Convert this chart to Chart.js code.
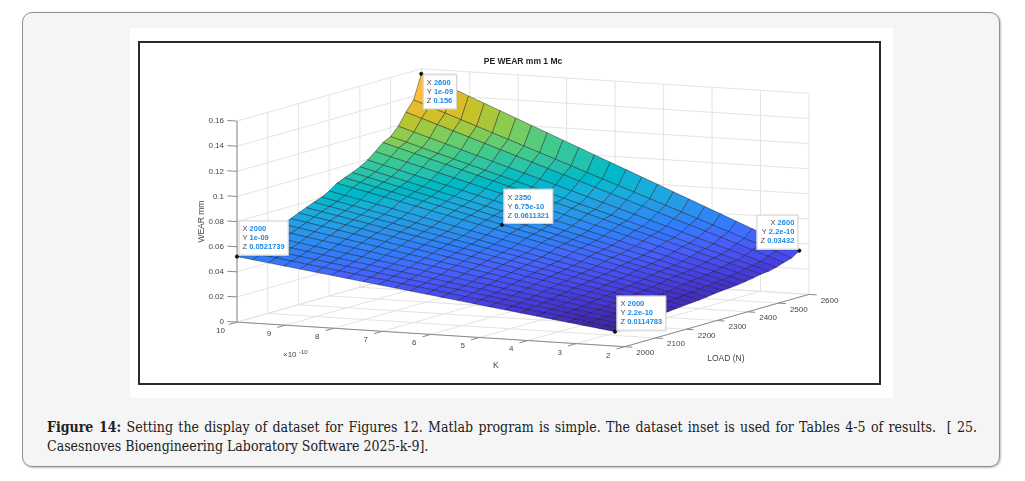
<!DOCTYPE html>
<html lang="en">
<head>
<meta charset="UTF-8">
<title>PE WEAR mm 1 Mc</title>
<script src="https://cdn.jsdelivr.net/npm/chart.js"></script>
<style>
    body { margin: 0; width: 1025px; height: 481px; position: relative; overflow: hidden; background: #fff; font-family: "Liberation Sans", Arial, sans-serif; }
    .panel { position: absolute; left: 22px; top: 12px; width: 976px; height: 453px; background: #f5f5f5; border: 1px solid #8f8f8f; border-radius: 10px; box-shadow: 1px 1px 2px rgba(0,0,0,0.25); }
    .figure { position: absolute; left: 130px; top: 28px; width: 763px; height: 370px; background: #fff; }
    .frame { position: absolute; left: 138px; top: 41px; width: 739px; height: 340px; border: 2px solid #2b2b2b; background: #fff; }
    .frame canvas { display: block; }
    .caption { position: absolute; left: 47px; top: 418px; width: 930px; font-family: "DejaVu Serif Condensed", "Liberation Serif", serif; font-size: 14px; line-height: 19px; color: #222; }
    .caption .l1 { text-align: justify; text-align-last: justify; white-space: nowrap; }
</style>
</head>
<body>
    <div class="panel"></div>
    <div class="figure"></div>
    <div class="frame"><canvas id="wearChart" width="739" height="340"></canvas></div>
    <div class="caption">
        <div class="l1"><b>Figure 14:</b> Setting the display of dataset for Figures 12. Matlab program is simple. The dataset inset is used for Tables 4-5 of results.&nbsp; [ 25.</div>
        <div>Casesnoves Bioengineering Laboratory Software 2025-k-9].</div>
    </div>

<script>
    // surface grid (LOAD in N, K, wear in mm)
    const loadValues = [2000, 2025, 2050, 2075, 2100, 2125, 2150, 2175, 2200, 2225, 2250, 2275, 2300,
                        2325, 2350, 2375, 2400, 2425, 2450, 2475, 2500, 2525, 2550, 2575, 2600];
    const kValues = [2.2e-10, 2.525e-10, 2.85e-10, 3.175e-10, 3.5e-10, 3.825e-10, 4.15e-10, 4.475e-10,
                     4.8e-10, 5.125e-10, 5.45e-10, 5.775e-10, 6.1e-10, 6.425e-10, 6.75e-10, 7.075e-10,
                     7.4e-10, 7.725e-10, 8.05e-10, 8.375e-10, 8.7e-10, 9.025e-10, 9.35e-10, 9.675e-10, 1e-9];
    // wear read along the K = 1e-9 edge, one value per load
    const wearAtKmax = [0.0521739, 0.0545, 0.0568, 0.0592, 0.0617, 0.0648, 0.0675, 0.0703, 0.0730, 0.0755,
                        0.0780, 0.0803, 0.0835, 0.0880, 0.0905661, 0.0930, 0.0958, 0.0995, 0.1045, 0.1100,
                        0.1130, 0.1195, 0.1290, 0.1370, 0.156];

    const loadTicks = [2000, 2100, 2200, 2300, 2400, 2500, 2600];
    const kTicks = [10, 9, 8, 7, 6, 5, 4, 3, 2];          // x 1e-10
    const wearTicks = [0, 0.02, 0.04, 0.06, 0.08, 0.1, 0.12, 0.14, 0.16];
    const loadLim = [2000, 2600];
    const kLim = [2e-10, 1e-9];
    const wearLim = [0, 0.16];

    // data tips: [load index, K index]
    const tipPoints = [[24, 24], [0, 24], [14, 14], [24, 0], [0, 0]];
    const tipPlace = ["below-right", "above-right", "above-right", "above-left", "above-right"];

    // wear is proportional to K (all data tips agree), so each row scales the K = 1e-9 edge
    const wear = kValues.map(k => wearAtKmax.map(w => w * k / kValues[kValues.length - 1]));

    // orthographic view, page pixels (MATLAB 3-D view)
    const view = { ox: 624.7, oy: 346.7, ux: 184.3, uy: -52.3, vx: -387.7, vy: -24.6, wy: -201 };
    // depth direction = screen-x row  x  screen-y row
    const dep = [view.vx * view.wy, -view.ux * view.wy, view.ux * view.vy - view.vx * view.uy];

    function uvw(load, k, z) {
        return [(load - loadLim[0]) / (loadLim[1] - loadLim[0]),
                (k - kLim[0]) / (kLim[1] - kLim[0]),
                (z - wearLim[0]) / (wearLim[1] - wearLim[0])];
    }
    function project(load, k, z) {
        const [u, v, w] = uvw(load, k, z);
        return { x: view.ox + u * view.ux + v * view.vx, y: view.oy + u * view.uy + v * view.vy + w * view.wy };
    }

    // MATLAB parula, 64 colours
    const parulaMap = [
        [0.2422,0.1504,0.6603],[0.2504,0.1650,0.7076],[0.2578,0.1818,0.7511],[0.2647,0.1978,0.7952],
        [0.2706,0.2147,0.8364],[0.2751,0.2342,0.8710],[0.2783,0.2559,0.8991],[0.2803,0.2782,0.9221],
        [0.2813,0.3006,0.9414],[0.2810,0.3228,0.9579],[0.2795,0.3447,0.9717],[0.2760,0.3667,0.9829],
        [0.2699,0.3892,0.9906],[0.2602,0.4123,0.9952],[0.2440,0.4358,0.9988],[0.2206,0.4603,0.9973],
        [0.1963,0.4847,0.9892],[0.1834,0.5074,0.9798],[0.1786,0.5289,0.9682],[0.1764,0.5499,0.9520],
        [0.1687,0.5703,0.9359],[0.1540,0.5902,0.9218],[0.1460,0.6091,0.9079],[0.1380,0.6276,0.8973],
        [0.1248,0.6459,0.8883],[0.1113,0.6635,0.8763],[0.0952,0.6798,0.8598],[0.0689,0.6948,0.8394],
        [0.0297,0.7082,0.8163],[0.0036,0.7203,0.7917],[0.0067,0.7312,0.7660],[0.0433,0.7411,0.7394],
        [0.0964,0.7500,0.7120],[0.1408,0.7584,0.6842],[0.1717,0.7670,0.6554],[0.1938,0.7758,0.6251],
        [0.2161,0.7843,0.5923],[0.2470,0.7918,0.5567],[0.2906,0.7973,0.5188],[0.3406,0.8008,0.4789],
        [0.3909,0.8029,0.4354],[0.4456,0.8024,0.3909],[0.5044,0.7993,0.3480],[0.5616,0.7942,0.3045],
        [0.6174,0.7876,0.2612],[0.6720,0.7793,0.2227],[0.7242,0.7698,0.1910],[0.7738,0.7598,0.1646],
        [0.8203,0.7498,0.1535],[0.8634,0.7406,0.1596],[0.9035,0.7330,0.1774],[0.9393,0.7288,0.2100],
        [0.9728,0.7298,0.2394],[0.9956,0.7434,0.2371],[0.9970,0.7659,0.2199],[0.9952,0.7893,0.2028],
        [0.9892,0.8136,0.1885],[0.9786,0.8386,0.1766],[0.9676,0.8639,0.1643],[0.9610,0.8890,0.1537],
        [0.9597,0.9135,0.1423],[0.9628,0.9373,0.1265],[0.9691,0.9606,0.1064],[0.9769,0.9839,0.0805]];
    function parula(t) {
        const c = parulaMap[Math.min(63, Math.floor(Math.max(0, t) * 64))].map(a => Math.round(255 * a));
        return `rgb(${c[0]},${c[1]},${c[2]})`;
    }

    const allWear = wear.flat();
    const cmin = Math.min(...allWear), cmax = Math.max(...allWear);

    // one filled quad per grid cell, nearest first (Chart.js paints the last dataset first)
    const cells = [];
    for (let i = 0; i < kValues.length - 1; i++) {
        for (let j = 0; j < loadValues.length - 1; j++) {
            const idx = [[i, j], [i, j + 1], [i + 1, j + 1], [i + 1, j]];
            const pts = idx.map(([a, b]) => project(loadValues[b], kValues[a], wear[a][b]));
            pts.push(pts[0]);
            let depth = 0;
            idx.forEach(([a, b]) => {
                const [u, v, w] = uvw(loadValues[b], kValues[a], wear[a][b]);
                depth += dep[0] * u + dep[1] * v + dep[2] * w;
            });
            cells.push({ pts, depth, color: parula((wear[i][j] - cmin) / (cmax - cmin)) });
        }
    }
    cells.sort((a, b) => a.depth - b.depth);

    const datasets = cells.map(c => ({
        type: "line",
        data: c.pts,
        backgroundColor: c.color,
        borderColor: "rgba(20,20,30,0.7)",
        borderWidth: 0.6,
        fill: "shape",
        pointRadius: 0,
        tension: 0
    }));
    datasets.push({
        type: "scatter",
        order: -1,
        data: tipPoints.map(([j, i]) => project(loadValues[j], kValues[i], wear[i][j])),
        pointRadius: 1.6,
        backgroundColor: "#111",
        borderColor: "#111"
    });

    function fmtExp(k) {
        const e = Math.floor(Math.log10(k) + 1e-9);
        const m = +(k / Math.pow(10, e)).toPrecision(4);
        const a = Math.abs(e);
        return m + "e" + (e < 0 ? "-" : "+") + (a < 10 ? "0" + a : a);
    }

    const axes3d = {
        id: "axes3d",
        beforeDatasetsDraw(chart) {
            const ctx = chart.ctx;
            const X = v => chart.scales.x.getPixelForValue(v);
            const Y = v => chart.scales.y.getPixelForValue(v);
            const seg = (p, q) => { ctx.moveTo(X(p.x), Y(p.y)); ctx.lineTo(X(q.x), Y(q.y)); };
            const text = (s, p, dx, dy, align) => { ctx.textAlign = align; ctx.fillText(s, X(p.x) + dx, Y(p.y) + dy); };
            const L0 = loadLim[0], L1 = loadLim[1], K0 = kLim[0], K1 = kLim[1], Z1 = wearLim[1];
            ctx.save();

            // grid on floor and the two back walls
            ctx.lineWidth = 1;
            ctx.strokeStyle = "#e3e3e3";
            ctx.beginPath();
            loadTicks.forEach(L => { seg(project(L, K0, 0), project(L, K1, 0)); seg(project(L, K1, 0), project(L, K1, Z1)); });
            kTicks.forEach(t => { const k = t * 1e-10; seg(project(L0, k, 0), project(L1, k, 0)); seg(project(L1, k, 0), project(L1, k, Z1)); });
            wearTicks.forEach(z => { seg(project(L0, K1, z), project(L1, K1, z)); seg(project(L1, K0, z), project(L1, K1, z)); });
            ctx.stroke();

            // axis lines and ticks
            ctx.strokeStyle = "#8a8a8a";
            ctx.beginPath();
            seg(project(L0, K1, 0), project(L0, K1, Z1));
            seg(project(L0, K0, 0), project(L0, K1, 0));
            seg(project(L0, K0, 0), project(L1, K0, 0));
            wearTicks.forEach(z => seg(project(L0, K1, z), project(L0, K1 + 0.025 * (K1 - K0), z)));
            kTicks.forEach(t => seg(project(L0, t * 1e-10, 0), project(L0 - 0.045 * (L1 - L0), t * 1e-10, 0)));
            loadTicks.forEach(L => seg(project(L, K0, 0), project(L, K0 - 0.02 * (K1 - K0), 0)));
            ctx.stroke();

            // tick labels
            ctx.fillStyle = "#444";
            ctx.font = '8px "Liberation Sans", Arial, sans-serif';
            ctx.textBaseline = "middle";
            wearTicks.forEach(z => text(String(z), project(L0, K1, z), -13, 0, "right"));
            kTicks.forEach(t => text(String(t), project(L0 - 0.09 * (L1 - L0), t * 1e-10, 0), 0, 4, "center"));
            loadTicks.forEach(L => text(String(L), project(L, K0 - 0.03 * (K1 - K0), 0), 0, 5.5, "left"));
            text("\u00d710", project(L0, K1, 0), 46, 33, "left");
            ctx.font = '6px "Liberation Sans", Arial, sans-serif';
            text("-10", project(L0, K1, 0), 62, 30, "left");

            // axis labels and title
            ctx.font = '8.5px "Liberation Sans", Arial, sans-serif';
            text("LOAD (N)", project((L0 + L1) / 2, K0, 0), 9, 38, "center");
            text("K", project(L0, (K0 + K1) / 2, 0), 65, 31, "center");
            ctx.save();
            const zp = project(L0, K1, Z1 / 2);
            ctx.translate(X(zp.x) - 35, Y(zp.y));
            ctx.rotate(-Math.PI / 2);
            ctx.textAlign = "center";
            ctx.fillText("WEAR mm", 0, 0);
            ctx.restore();
            ctx.fillStyle = "#222";
            ctx.font = 'bold 8.5px "Liberation Sans", Arial, sans-serif';
            ctx.textAlign = "center";
            ctx.fillText("PE WEAR mm 1 Mc", X(523), Y(62));
            ctx.restore();
        },
        afterDatasetsDraw(chart) {
            const ctx = chart.ctx;
            const X = v => chart.scales.x.getPixelForValue(v);
            const Y = v => chart.scales.y.getPixelForValue(v);
            const labFont = '7.5px "Liberation Sans", Arial, sans-serif';
            const valFont = 'bold 7.5px "Liberation Sans", Arial, sans-serif';
            ctx.save();
            ctx.textBaseline = "middle";
            tipPoints.forEach(([j, i], n) => {
                const z = wear[i][j];
                const p = project(loadValues[j], kValues[i], z);
                const rows = [["X", String(loadValues[j])], ["Y", fmtExp(kValues[i])], ["Z", String(+z.toPrecision(6))]];
                const widths = rows.map(([a, b]) => {
                    ctx.font = labFont; const wa = ctx.measureText(a + " ").width;
                    ctx.font = valFont; return wa + ctx.measureText(b).width;
                });
                const w = Math.max(...widths) + 8, h = 35;
                const px = X(p.x), py = Y(p.y);
                let bx = px + 1.5, by = py - 1 - h;
                if (tipPlace[n] === "below-right") by = py + 0.5;
                if (tipPlace[n] === "above-left") bx = px - 1 - w;
                ctx.shadowColor = "rgba(0,0,0,0.18)";
                ctx.shadowBlur = 2;
                ctx.fillStyle = "#fff";
                ctx.fillRect(bx, by, w, h);
                ctx.shadowColor = "transparent";
                ctx.strokeStyle = "#d2d2d2";
                ctx.lineWidth = 1;
                ctx.strokeRect(bx + 0.5, by + 0.5, w - 1, h - 1);
                rows.forEach(([a, b], r) => {
                    const ty = by + 8.7 + r * 9;
                    let tx = bx + 4;
                    if (tipPlace[n] === "above-left") tx = bx + w - 4 - widths[r];
                    ctx.font = labFont; ctx.fillStyle = "#4a4a4a"; ctx.textAlign = "left";
                    ctx.fillText(a, tx, ty);
                    const wa = ctx.measureText(a + " ").width;
                    ctx.font = valFont; ctx.fillStyle = "#1a8ae6";
                    ctx.fillText(b, tx + wa, ty);
                });
            });
            ctx.restore();
        }
    };

    new Chart(document.getElementById("wearChart"), {
        type: "scatter",
        data: { datasets },
        options: {
            responsive: false,
            animation: false,
            events: [],
            layout: { padding: 0, autoPadding: false },
            plugins: { legend: { display: false }, tooltip: { enabled: false }, title: { display: false } },
            scales: {
                x: { type: "linear", display: false, min: 140, max: 879 },
                y: { type: "linear", display: false, min: 43, max: 383, reverse: true }
            }
        },
        plugins: [axes3d]
    });
</script>
</body>
</html>
